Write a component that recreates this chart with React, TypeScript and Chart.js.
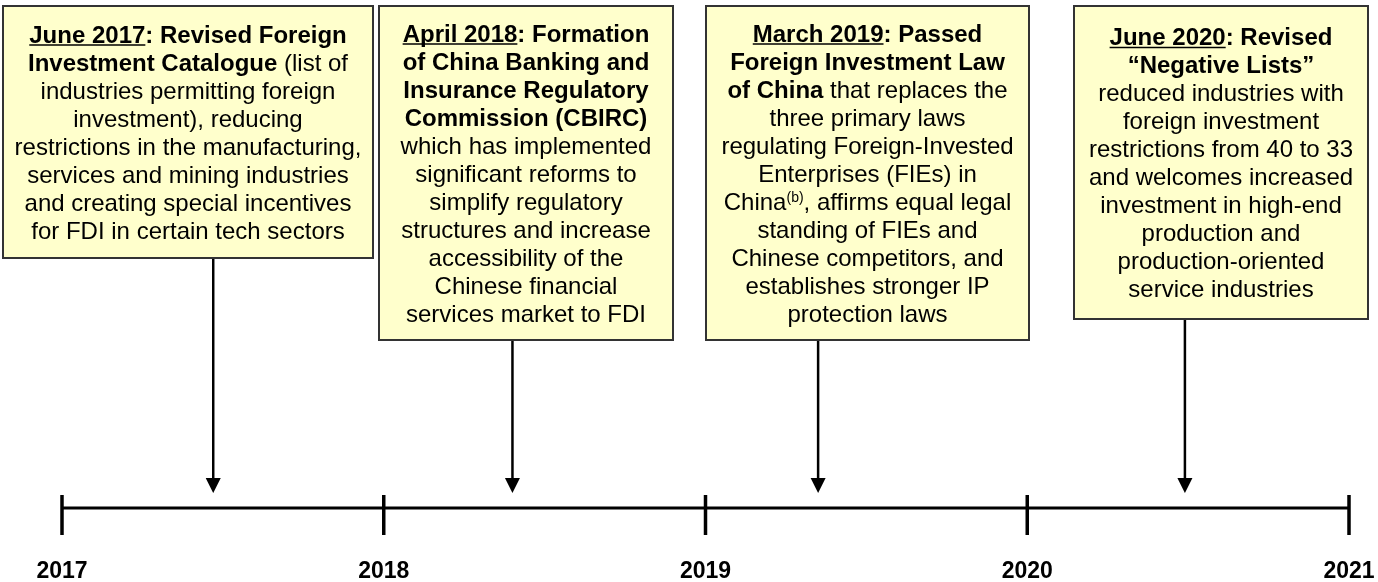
import React, { useEffect, useRef } from "react";
import { Chart, registerables } from "chart.js";

Chart.register(...registerables);

// ---- data ----
const yearTicks = [2017, 2018, 2019, 2020, 2021];
const yearLabels = ["2017", "2018", "2019", "2020", "2021"];
const eventDates = [2017.47, 2018.4, 2019.35, 2020.49];

type Seg = { t: string; b?: boolean; u?: boolean; sup?: boolean };

const event1Lines: Seg[][] = [
  [{ t: "June 2017", b: true, u: true }, { t: ": Revised Foreign", b: true }],
  [{ t: "Investment Catalogue", b: true }, { t: " (list of" }],
  [{ t: "industries permitting foreign" }],
  [{ t: "investment), reducing" }],
  [{ t: "restrictions in the manufacturing," }],
  [{ t: "services and mining industries" }],
  [{ t: "and creating special incentives" }],
  [{ t: "for FDI in certain tech sectors" }],
];
const event2Lines: Seg[][] = [
  [{ t: "April 2018", b: true, u: true }, { t: ": Formation", b: true }],
  [{ t: "of China Banking and", b: true }],
  [{ t: "Insurance Regulatory", b: true }],
  [{ t: "Commission (CBIRC)", b: true }],
  [{ t: "which has implemented" }],
  [{ t: "significant reforms to" }],
  [{ t: "simplify regulatory" }],
  [{ t: "structures and increase" }],
  [{ t: "accessibility of the" }],
  [{ t: "Chinese financial" }],
  [{ t: "services market to FDI" }],
];
const event3Lines: Seg[][] = [
  [{ t: "March 2019", b: true, u: true }, { t: ": Passed", b: true }],
  [{ t: "Foreign Investment Law", b: true }],
  [{ t: "of China", b: true }, { t: " that replaces the" }],
  [{ t: "three primary laws" }],
  [{ t: "regulating Foreign-Invested" }],
  [{ t: "Enterprises (FIEs) in" }],
  [{ t: "China" }, { t: "(b)", sup: true }, { t: ", affirms equal legal" }],
  [{ t: "standing of FIEs and" }],
  [{ t: "Chinese competitors, and" }],
  [{ t: "establishes stronger IP" }],
  [{ t: "protection laws" }],
];
const event4Lines: Seg[][] = [
  [{ t: "June 2020", b: true, u: true }, { t: ": Revised", b: true }],
  [{ t: "\u201CNegative Lists\u201D", b: true }],
  [{ t: "reduced industries with" }],
  [{ t: "foreign investment" }],
  [{ t: "restrictions from 40 to 33" }],
  [{ t: "and welcomes increased" }],
  [{ t: "investment in high-end" }],
  [{ t: "production and" }],
  [{ t: "production-oriented" }],
  [{ t: "service industries" }],
];
const eventTexts = [event1Lines, event2Lines, event3Lines, event4Lines];

// ---- layout / style ----
const boxLeft = [3, 379, 706, 1074];
const boxRight = [373, 673, 1029, 1368];
const boxTop = 6;
const boxBottom = [258, 340, 340, 319];
const timelineY = 508;
const tickTop = 495;
const tickBottom = 535;
const arrowTipY = 493;
const labelBaseline = 578;
const FONT = '"Liberation Sans", Arial, Helvetica, sans-serif';
const textSize = 24;
const lineHeight = 28;

const timelinePlugin = {
  id: "timelinePlugin",
  afterDraw(chart: any) {
    const ctx: CanvasRenderingContext2D = chart.ctx;
    const xs = chart.scales.x;
    ctx.save();

    eventTexts.forEach((lines, i) => {
      const l = boxLeft[i], r = boxRight[i], t = boxTop, b = boxBottom[i];
      ctx.fillStyle = "#FFFFCC";
      ctx.fillRect(l, t, r - l, b - t);
      ctx.strokeStyle = "#333333";
      ctx.lineWidth = 2;
      ctx.strokeRect(l, t, r - l, b - t);

      const cx = (l + r) / 2;
      const blockH = lines.length * lineHeight;
      const startY = t + (b - t - blockH) / 2;
      lines.forEach((segs, li) => {
        const base = startY + li * lineHeight + lineHeight / 2 + 8.5;
        const fontOf = (s: Seg) =>
          `${s.b ? "bold " : ""}${s.sup ? 14 : textSize}px ${FONT}`;
        let total = 0;
        const widths = segs.map((s) => {
          ctx.font = fontOf(s);
          const w = ctx.measureText(s.t).width;
          total += w;
          return w;
        });
        let x = cx - total / 2;
        segs.forEach((s, si) => {
          ctx.font = fontOf(s);
          ctx.fillStyle = "#000000";
          ctx.textAlign = "left";
          ctx.textBaseline = "alphabetic";
          ctx.fillText(s.t, x, s.sup ? base - 8 : base);
          if (s.u) {
            ctx.strokeStyle = "#000000";
            ctx.lineWidth = 1.7;
            ctx.beginPath();
            ctx.moveTo(x, base + 2.5);
            ctx.lineTo(x + widths[si], base + 2.5);
            ctx.stroke();
          }
          x += widths[si];
        });
      });

      const ax = xs.getPixelForValue(eventDates[i]);
      ctx.strokeStyle = "#000000";
      ctx.lineWidth = 2.5;
      ctx.beginPath();
      ctx.moveTo(ax, b + 1);
      ctx.lineTo(ax, arrowTipY - 14);
      ctx.stroke();
      ctx.fillStyle = "#000000";
      ctx.beginPath();
      ctx.moveTo(ax - 7.5, arrowTipY - 15);
      ctx.lineTo(ax + 7.5, arrowTipY - 15);
      ctx.lineTo(ax, arrowTipY);
      ctx.closePath();
      ctx.fill();
    });

    const x0 = xs.getPixelForValue(yearTicks[0]);
    const x1 = xs.getPixelForValue(yearTicks[yearTicks.length - 1]);
    ctx.strokeStyle = "#000000";
    ctx.lineWidth = 3;
    ctx.beginPath();
    ctx.moveTo(x0, timelineY);
    ctx.lineTo(x1, timelineY);
    ctx.stroke();
    ctx.lineWidth = 3.5;
    yearTicks.forEach((yr, i) => {
      const px = xs.getPixelForValue(yr);
      ctx.beginPath();
      ctx.moveTo(px, tickTop);
      ctx.lineTo(px, tickBottom);
      ctx.stroke();
      ctx.font = `bold 23px ${FONT}`;
      ctx.textAlign = "center";
      ctx.textBaseline = "alphabetic";
      ctx.fillStyle = "#000000";
      ctx.fillText(yearLabels[i], px, labelBaseline);
    });
    ctx.restore();
  },
};

export default function App() {
  const ref = useRef<HTMLCanvasElement | null>(null);
  useEffect(() => {
    if (!ref.current) return;
    const chart = new Chart(ref.current, {
      type: "scatter",
      data: {
        datasets: [
          {
            data: eventDates.map((d) => ({ x: d, y: 0 })),
            pointRadius: 0,
            showLine: false,
          },
        ],
      },
      options: {
        animation: false,
        responsive: true,
        maintainAspectRatio: false,
        layout: { padding: { left: 62, right: 29, top: 0, bottom: 0 } },
        plugins: { legend: { display: false }, tooltip: { enabled: false } },
        scales: {
          x: { type: "linear", min: 2017, max: 2021, display: false },
          y: { min: 0, max: 1, display: false },
        },
      },
      plugins: [timelinePlugin],
    });
    return () => chart.destroy();
  }, []);
  return (
    <div style={{ position: "fixed", left: 0, top: 0, width: 1378, height: 582, background: "#fff" }}>
      <canvas ref={ref} />
    </div>
  );
}
